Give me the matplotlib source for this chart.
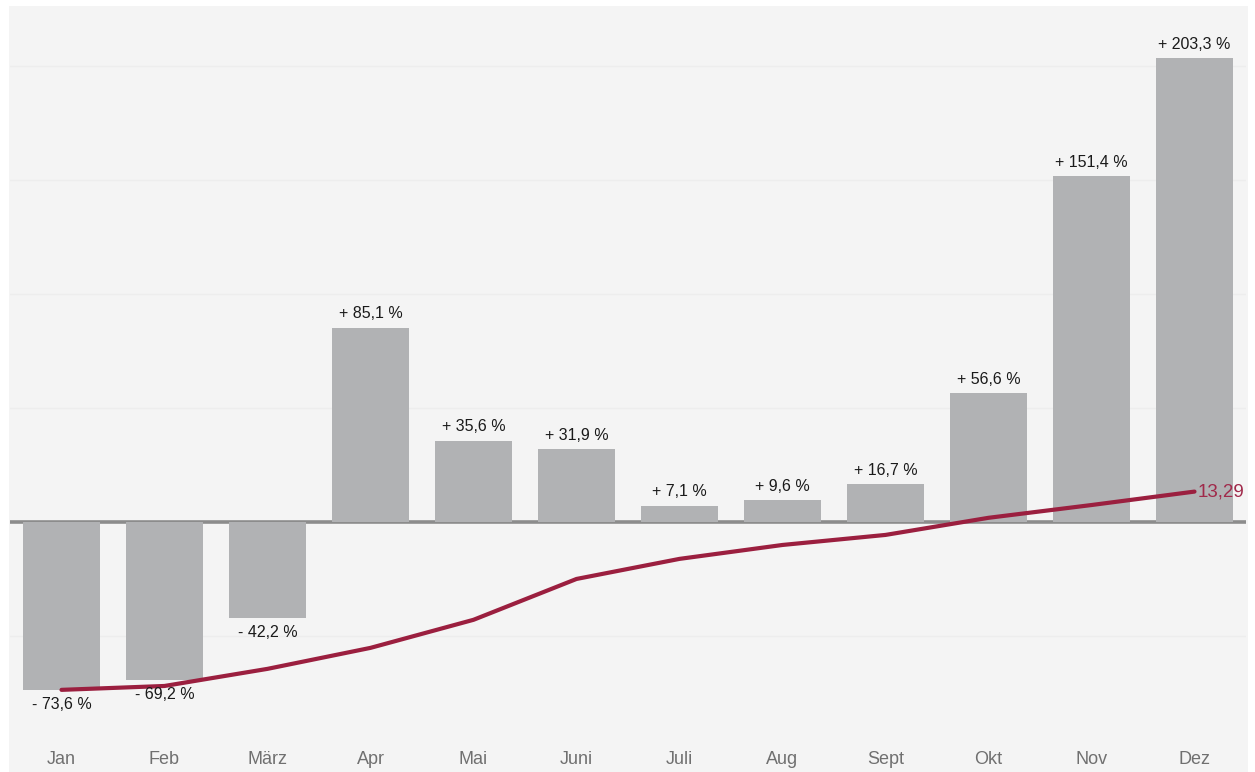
import matplotlib
matplotlib.use("Agg")
import matplotlib.pyplot as plt
from matplotlib.patches import Rectangle
from matplotlib import font_manager as fm
import matplotlib.transforms as mtransforms

# ---- data ----
months = ["Jan", "Feb", "März", "Apr", "Mai", "Juni", "Juli", "Aug", "Sept", "Okt", "Nov", "Dez"]
monthly_change = [-73.6, -69.2, -42.2, 85.1, 35.6, 31.9, 7.1, 9.6, 16.7, 56.6, 151.4, 203.3]
cumulative_change = [-73.6, -71.9, -64.4, -55.2, -42.9, -25.0, -16.2, -10.1, -5.7, 1.8, 7.4, 13.29]
gridlines = [-50, 50, 100, 150, 200]

names = {f.name for f in fm.fontManager.ttflist}
tick_font = "Liberation Sans Narrow" if "Liberation Sans Narrow" in names else "Liberation Sans"
label_font = "Liberation Sans"

def fmt(v):
    sign = "+" if v >= 0 else "-"
    return f"{sign} {abs(v):.1f} %".replace(".", ",")

W, H = 1255, 772
fig = plt.figure(figsize=(W / 100, H / 100), dpi=100, facecolor="white")
# panel background
fig.patches.append(Rectangle((9 / W, 0), (1248 - 9) / W, (H - 6) / H,
                             transform=fig.transFigure, facecolor="#f4f4f4",
                             edgecolor="none", zorder=-5))
left, right, top = 10 / W, 1246 / W, (H - 6) / H
ax = fig.add_axes([left, 0, right - left, top])
ax.set_zorder(5)
ax.patch.set_alpha(0)
for s in ax.spines.values():
    s.set_visible(False)

x = list(range(len(months)))
ax.set_xlim(-0.5, len(months) - 0.5)
ax.set_ylim(-109.6, 226.1)

for g in gridlines:
    ax.axhline(g, color="#ededed", lw=1.0, zorder=1)
ax.plot([-0.5, len(months) - 0.5], [0, 0], color="#8c8c8c", lw=2.6, zorder=2,
        solid_capstyle="butt")

ax.bar(x, monthly_change, width=0.75, color="#b1b2b4", zorder=3)

for xi, v in zip(x, monthly_change):
    if v >= 0:
        ax.annotate(fmt(v), (xi, v), xytext=(0, 4.5), textcoords="offset points",
                    ha="center", va="bottom", fontsize=11.5, color="#1a1a1a",
                    family=label_font, zorder=5)
    else:
        ax.annotate(fmt(v), (xi, v), xytext=(0, -5), textcoords="offset points",
                    ha="center", va="top", fontsize=11.5, color="#1a1a1a",
                    family=label_font, zorder=5)

ax.plot(x, cumulative_change, color="#9b1f3f", lw=3.0, solid_capstyle="round", zorder=4)
ax.annotate(f"{cumulative_change[-1]:.2f}".replace(".", ","), (x[-1], cumulative_change[-1]),
            xytext=(2, 0), textcoords="offset points", ha="left", va="center",
            fontsize=13.5, color="#a0294a", family=label_font, zorder=5)

trans = mtransforms.blended_transform_factory(ax.transData, ax.transAxes)
for xi, m in zip(x, months):
    ax.text(xi, 12 / 766, m, transform=trans, ha="center", va="center",
            fontsize=13, color="#707070", family=tick_font)

ax.set_xticks([])
ax.set_yticks([])

fig.savefig("out.png", dpi=100, facecolor="white")
